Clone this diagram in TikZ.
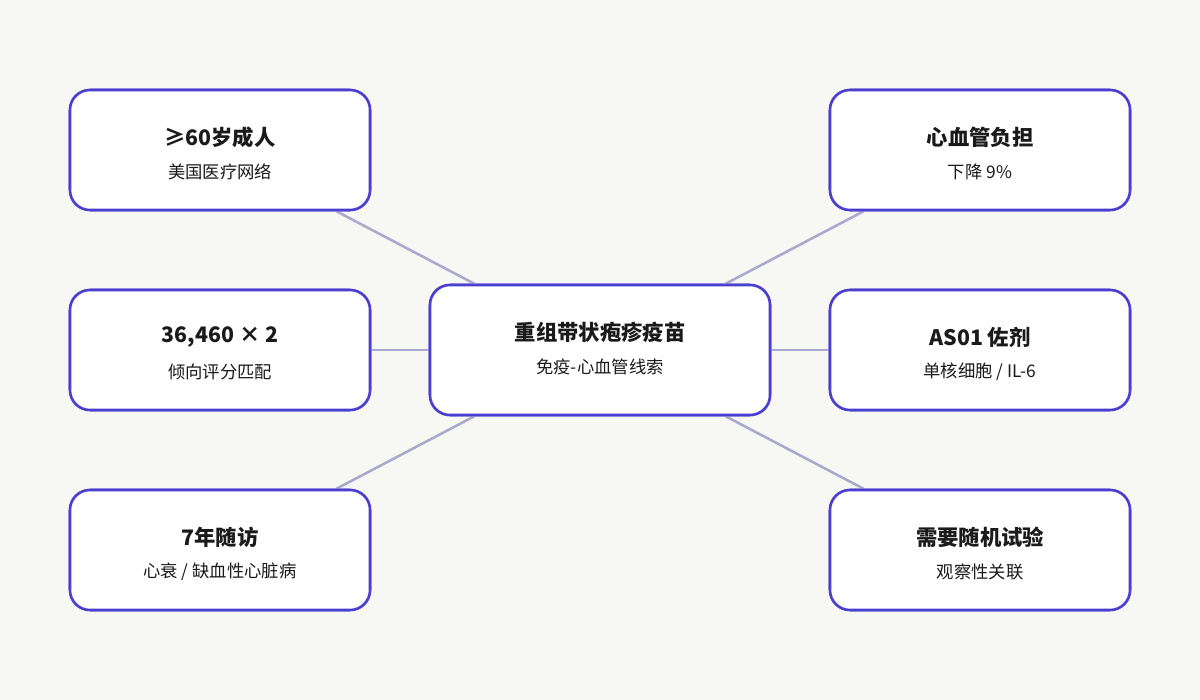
\documentclass[tikz,border=0pt]{standalone}
\usepackage{fontspec}
\setmainfont{Noto Sans CJK SC}
\newfontfamily\cjkb{Noto Sans CJK SC}[BoldFont={Noto Sans CJK SC Bold}]
\definecolor{bg}{HTML}{F7F7F4}
\definecolor{bd}{HTML}{4A3FD0}
\definecolor{ln}{HTML}{ABA8CE}
\definecolor{tx}{HTML}{1A1A1A}
\begin{document}
\begin{tikzpicture}[x=0.75pt,y=-0.75pt,
 box/.style={draw=bd,line width=1.9pt,fill=white,rounded corners=15pt,minimum width=225pt,minimum height=90pt,inner sep=0pt},
 cbox/.style={box,minimum width=255pt,minimum height=97.5pt},
 ttl/.style={font=\fontsize{16pt}{18pt}\selectfont\bfseries,text=tx},
 sub/.style={font=\fontsize{13pt}{15pt}\selectfont,text=tx},
 con/.style={draw=ln,line width=1.9pt}]
\fill[bg] (0,0) rectangle (1200,700);
\node[box] (a) at (220,150) {};
\node[box] (b) at (220,350) {};
\node[box] (d) at (220,550) {};
\node[box] (e) at (980,150) {};
\node[box] (f) at (980,350) {};
\node[box] (g) at (980,550) {};
\node[cbox] (c) at (600,350) {};
\begin{scope}[on background layer/.style={}]
\end{scope}
\draw[con] (a) -- (c); \draw[con] (b) -- (c); \draw[con] (d) -- (c);
\draw[con] (e) -- (c); \draw[con] (f) -- (c); \draw[con] (g) -- (c);
% redraw boxes over lines
\node[box] at (220,150) {}; \node[box] at (220,350) {}; \node[box] at (220,550) {};
\node[box] at (980,150) {}; \node[box] at (980,350) {}; \node[box] at (980,550) {};
\node[cbox] at (600,350) {};
\node[ttl] (at) at (220,137) {≥60岁成人};
\node[sub] (as) at (220,172) {美国医疗网络};
\node[ttl] (bt) at (220,337) {36,460 × 2};
\node[sub] (bs) at (220,372) {倾向评分匹配};
\node[ttl] (dt) at (220,537) {7年随访};
\node[sub] (ds) at (220,572) {心衰 / 缺血性心脏病};
\node[ttl] (et) at (980,137) {心血管负担};
\node[sub] (es) at (980,172) {下降 9\%};
\node[ttl] (ft) at (980,337) {AS01 佐剂};
\node[sub] (fs) at (980,372) {单核细胞 / IL-6};
\node[ttl] (gt) at (980,537) {需要随机试验};
\node[sub] (gs) at (980,572) {观察性关联};
\node[ttl] (ct) at (600,332) {重组带状疱疹疫苗};
\node[sub] (cs) at (600,367) {免疫-心血管线索};
\end{tikzpicture}
\end{document}
